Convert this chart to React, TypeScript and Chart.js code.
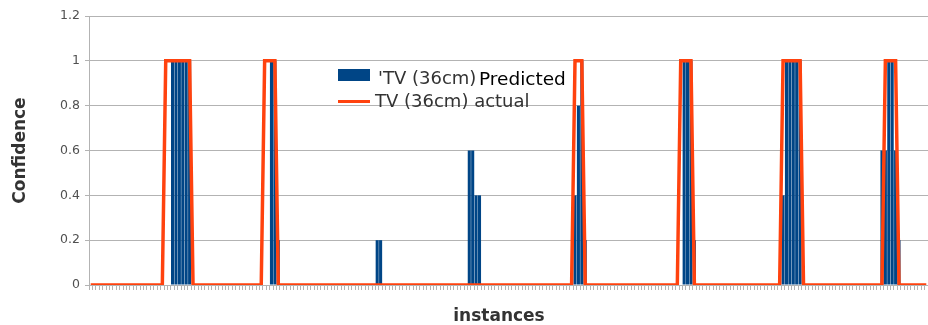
import React, { useEffect, useRef } from "react";
import { Chart, registerables } from "chart.js";

Chart.register(...registerables);

// 'TV (36cm) Predicted confidence per instance (bars)
const predicted: number[] = [
  0, 0, 0, 0, 0, 0, 0, 0, 0, 0, // 0
  0, 0, 0, 0, 0, 0, 0, 0, 0, 0, // 10
  0, 0, 0, 0, 1, 1, 1, 1, 1, 1, // 20
  0, 0, 0, 0, 0, 0, 0, 0, 0, 0, // 30
  0, 0, 0, 0, 0, 0, 0, 0, 0, 0, // 40
  0, 0, 0, 1, 1, 0.2, 0, 0, 0, 0, // 50
  0, 0, 0, 0, 0, 0, 0, 0, 0, 0, // 60
  0, 0, 0, 0, 0, 0, 0, 0, 0, 0, // 70
  0, 0, 0, 0, 0.2, 0.2, 0, 0, 0, 0, // 80
  0, 0, 0, 0, 0, 0, 0, 0, 0, 0, // 90
  0, 0, 0, 0, 0, 0, 0, 0, 0, 0, // 100
  0, 0.6, 0.6, 0.4, 0.4, 0, 0, 0, 0, 0, // 110
  0, 0, 0, 0, 0, 0, 0, 0, 0, 0, // 120
  0, 0, 0, 0, 0, 0, 0, 0, 0, 0, // 130
  0, 0, 0.4, 0.8, 1, 0.2, 0, 0, 0, 0, // 140
  0, 0, 0, 0, 0, 0, 0, 0, 0, 0, // 150
  0, 0, 0, 0, 0, 0, 0, 0, 0, 0, // 160
  0, 0, 0, 0, 1, 1, 1, 0.2, 0, 0, // 170
  0, 0, 0, 0, 0, 0, 0, 0, 0, 0, // 180
  0, 0, 0, 0, 0, 0, 0, 0, 0, 0, // 190
  0, 0, 0, 0.4, 1, 1, 1, 1, 1, 0, // 200
  0, 0, 0, 0, 0, 0, 0, 0, 0, 0, // 210
  0, 0, 0, 0, 0, 0, 0, 0, 0, 0, // 220
  0, 0, 0.6, 0.6, 1, 1, 0.6, 0.2, 0, 0, // 230
  0, 0, 0, 0, 0, 0, // 240
];

// TV (36cm) actual (line)
const actual: number[] = [
  0, 0, 0, 0, 0, 0, 0, 0, 0, 0, // 0
  0, 0, 0, 0, 0, 0, 0, 0, 0, 0, // 10
  0, 0, 1, 1, 1, 1, 1, 1, 1, 1, // 20
  0, 0, 0, 0, 0, 0, 0, 0, 0, 0, // 30
  0, 0, 0, 0, 0, 0, 0, 0, 0, 0, // 40
  0, 1, 1, 1, 1, 0, 0, 0, 0, 0, // 50
  0, 0, 0, 0, 0, 0, 0, 0, 0, 0, // 60
  0, 0, 0, 0, 0, 0, 0, 0, 0, 0, // 70
  0, 0, 0, 0, 0, 0, 0, 0, 0, 0, // 80
  0, 0, 0, 0, 0, 0, 0, 0, 0, 0, // 90
  0, 0, 0, 0, 0, 0, 0, 0, 0, 0, // 100
  0, 0, 0, 0, 0, 0, 0, 0, 0, 0, // 110
  0, 0, 0, 0, 0, 0, 0, 0, 0, 0, // 120
  0, 0, 0, 0, 0, 0, 0, 0, 0, 0, // 130
  0, 0, 1, 1, 1, 0, 0, 0, 0, 0, // 140
  0, 0, 0, 0, 0, 0, 0, 0, 0, 0, // 150
  0, 0, 0, 0, 0, 0, 0, 0, 0, 0, // 160
  0, 0, 0, 1, 1, 1, 1, 0, 0, 0, // 170
  0, 0, 0, 0, 0, 0, 0, 0, 0, 0, // 180
  0, 0, 0, 0, 0, 0, 0, 0, 0, 0, // 190
  0, 0, 0, 1, 1, 1, 1, 1, 1, 0, // 200
  0, 0, 0, 0, 0, 0, 0, 0, 0, 0, // 210
  0, 0, 0, 0, 0, 0, 0, 0, 0, 0, // 220
  0, 0, 0, 1, 1, 1, 1, 0, 0, 0, // 230
  0, 0, 0, 0, 0, 0, // 240
];

const instances: string[] = predicted.map((_, i) => String(i + 1));
const yTickValues: number[] = [0, 0.2, 0.4, 0.6, 0.8, 1, 1.2];
const seriesNames: string[] = ["'TV (36cm)", "TV (36cm) actual"];
const overlayWord = "Predicted";
const xTitle = "instances";
const yTitle = "Confidence";

const BAR_COLOR = "#004586";
const LINE_COLOR = "#ff420e";
const GRID_COLOR = "#b3b3b3";

const overlayPlugin = {
  id: "overlayLegendAndTitle",
  afterDraw(chart: any) {
    const ctx: CanvasRenderingContext2D = chart.ctx;
    ctx.save();
    // legend: bar key
    ctx.fillStyle = BAR_COLOR;
    ctx.fillRect(338, 69, 32, 12);
    ctx.font = '18px "DejaVu Sans"';
    ctx.textAlign = "left";
    ctx.textBaseline = "alphabetic";
    ctx.fillStyle = "#333333";
    ctx.fillText(seriesNames[0], 378, 83.5);
    // overlapping black word
    ctx.fillStyle = "#000000";
    ctx.font = '18.5px "DejaVu Sans"';
    ctx.fillText(overlayWord, 479, 85);
    // legend: line key
    ctx.strokeStyle = LINE_COLOR;
    ctx.lineWidth = 3;
    ctx.beginPath();
    ctx.moveTo(338, 101.5);
    ctx.lineTo(370, 101.5);
    ctx.stroke();
    ctx.fillStyle = "#333333";
    ctx.font = '18px "DejaVu Sans"';
    ctx.fillText(seriesNames[1], 375, 106.5);
    // x axis title
    ctx.font = 'bold 17px "DejaVu Sans"';
    ctx.fillStyle = "#333333";
    ctx.textAlign = "center";
    ctx.textBaseline = "middle";
    ctx.fillText(xTitle, 499, 317);
    ctx.restore();
  },
};

export default function App() {
  const canvasRef = useRef<HTMLCanvasElement | null>(null);

  useEffect(() => {
    if (!canvasRef.current) return;
    const chart = new Chart(canvasRef.current, {
      type: "bar",
      data: {
        labels: instances,
        datasets: [
          {
            type: "bar",
            label: seriesNames[0],
            data: predicted,
            backgroundColor: BAR_COLOR,
            borderWidth: 0,
            barPercentage: 0.9,
            categoryPercentage: 1,
            order: 2,
          },
          {
            type: "line",
            label: seriesNames[1],
            data: actual,
            borderColor: LINE_COLOR,
            backgroundColor: LINE_COLOR,
            borderWidth: 3.5,
            pointRadius: 0,
            tension: 0,
            order: 1,
          } as any,
        ],
      },
      options: {
        responsive: false,
        animation: false,
        devicePixelRatio: 1,
        layout: { padding: { top: 16, right: 0, left: 0, bottom: 0 } },
        plugins: {
          legend: { display: false },
          tooltip: { enabled: false },
        },
        scales: {
          x: {
            offset: true,
            grid: {
              offset: true,
              drawOnChartArea: false,
              drawTicks: true,
              tickLength: 5,
              color: GRID_COLOR,
            },
            border: { display: true, color: GRID_COLOR },
            ticks: { display: false },
            afterFit: (scale: any) => {
              scale.height = 40;
            },
          },
          y: {
            min: 0,
            max: 1.2,
            afterBuildTicks: (scale: any) => {
              scale.ticks = yTickValues.map((v) => ({ value: v }));
            },
            ticks: {
              color: "#505050",
              padding: 5,
              font: { family: "DejaVu Sans", size: 12.5 },
              callback: (v: any) => String(v),
            },
            grid: {
              color: GRID_COLOR,
              tickLength: 4,
              drawTicks: true,
            },
            border: { display: true, color: GRID_COLOR },
            title: {
              display: true,
              text: yTitle,
              color: "#333333",
              font: { family: "DejaVu Sans", size: 17, weight: "bold", lineHeight: 1 },
              padding: { top: 12, bottom: 0 },
            },
            afterFit: (scale: any) => {
              scale.width = 89;
            },
          },
        },
      },
      plugins: [overlayPlugin],
    });
    return () => chart.destroy();
  }, []);

  return (
    <div style={{ position: "absolute", left: 0, top: 0, width: 928, height: 325, background: "#fff" }}>
      <canvas ref={canvasRef} width={928} height={325} style={{ width: 928, height: 325, display: "block" }} />
    </div>
  );
}
